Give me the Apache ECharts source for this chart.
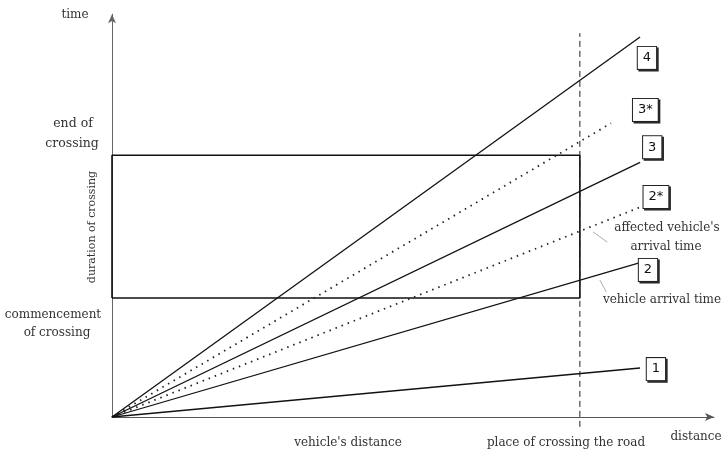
<!DOCTYPE html>
<html>
<head>
<meta charset="utf-8">
<script src="https://cdn.jsdelivr.net/npm/echarts@6/dist/echarts.min.js"></script>
<style>html,body{margin:0;padding:0;background:#fff}#c{width:722px;height:461px}</style>
</head>
<body>
<div id="c"></div>
<script>
// Vehicle arrival lines: end point at distance 100 (time units)
var lineNames = ['1', '2', '2*', '3', '3*', '4'];
var lineEndX = [100, 100, 100, 100, 94.5, 100];
var lineEndY = [12.9, 40.6, 55.2, 67.0, 77.3, 100];
var lineDotted = [false, false, true, false, true, false];
// Box label anchor positions (data units)
var boxX = [103, 101.5, 103, 102.3, 101, 101.3];
var boxY = [12.6, 38.7, 57.9, 71, 80.8, 94.5];
// Crossing window
var crossStart = 31.3, crossEnd = 68.9, crossPlace = 88.6;
// Leader lines
var leaders = [
  [[91.1, 48.7], [93.8, 46.0]],
  [[92.4, 36.0], [93.6, 32.9]]
];

var series = [];
for (var i = 0; i < lineNames.length; i++) {
  series.push({
    type: 'line', name: lineNames[i], showSymbol: false, silent: true, clip: false,
    data: [[0, 0], [lineEndX[i], lineEndY[i]]],
    lineStyle: lineDotted[i] ? {color: '#222', width: 1.8, type: [1.5, 5]} : {color: '#111', width: 1.3},
    z: 3
  });
}
// rectangle
series.push({
  type: 'line', showSymbol: false, silent: true, clip: false,
  data: [[0, crossStart], [crossPlace, crossStart], [crossPlace, crossEnd], [0, crossEnd], [0, crossStart]],
  lineStyle: {color: '#111', width: 1.6}, z: 2
});
// dashed place of crossing line
series.push({
  type: 'line', showSymbol: false, silent: true, clip: false,
  data: [[crossPlace, -2.6], [crossPlace, 101]],
  lineStyle: {color: '#222', width: 1, type: [6, 4]}, z: 2,
  markLine: {
    silent: true, symbol: ['arrow', 'arrow'], symbolSize: [6, 9],
    lineStyle: {color: '#222', width: 1, type: 'solid'}, label: {show: false},
    data: [[{coord: [-1, -10.5]}, {coord: [crossPlace, -10.5]}]]
  }
});
// leader lines
leaders.forEach(function (l) {
  series.push({
    type: 'line', showSymbol: false, silent: true, clip: false, data: l,
    lineStyle: {color: '#888', width: 0.7}, z: 2
  });
});
// box labels: shadow layer + white box layer
function boxSeries(isShadow) {
  return {
    type: 'scatter', symbolSize: 1, silent: true, clip: false,
    itemStyle: {color: 'rgba(0,0,0,0)', opacity: 1},
    data: lineNames.map(function (n, i) { return {value: [boxX[i], boxY[i]], name: n}; }),
    label: {
      show: true, position: 'inside', formatter: '{b}',
      offset: isShadow ? [1.6, 1.6] : [0, 0],
      fontFamily: 'DejaVu Sans', fontSize: 13,
      color: isShadow ? '#333' : '#111',
      backgroundColor: isShadow ? '#333' : '#ffffff',
      borderColor: '#222', borderWidth: 1,
      padding: [5, 5, 4, 5]
    },
    z: isShadow ? 5 : 6
  };
}
series.push(boxSeries(true));
series.push(boxSeries(false));

var tf = 'DejaVu Serif';
function txt(t, x, y, rot, fs) {
  return {type: 'text', x: x, y: y, rotation: rot || 0,
    style: {text: t, font: (fs || 12) + 'px "' + tf + '"', fill: '#333', textAlign: 'center', textVerticalAlign: 'middle'}};
}

var chart = echarts.init(document.getElementById('c'));
chart.setOption({
  animation: false,
  backgroundColor: '#fff',
  grid: {left: 112, right: 8, top: 14.2, bottom: 44},
  xAxis: {
    type: 'value', min: 0, max: 114, splitLine: {show: false}, axisTick: {show: false}, axisLabel: {show: false},
    axisLine: {show: true, symbol: ['none', 'arrow'], symbolSize: [6, 9], lineStyle: {color: '#555', width: 1}}
  },
  yAxis: {
    type: 'value', min: 0, max: 106, splitLine: {show: false}, axisTick: {show: false}, axisLabel: {show: false},
    axisLine: {show: true, symbol: ['none', 'arrow'], symbolSize: [6, 9], lineStyle: {color: '#666', width: 1}}
  },
  graphic: [
    txt('time', 75, 15),
    txt('end of', 73, 124, 0, 12.5),
    txt('crossing', 72, 144, 0, 12.5),
    txt('duration of crossing', 92, 227, Math.PI / 2, 11),
    txt('commencement', 53, 315),
    txt('of crossing', 57, 333),
    txt("vehicle's distance", 348, 443),
    txt('place of crossing the road', 566, 443),
    txt('distance', 696, 437),
    txt("affected vehicle's", 667, 228),
    txt('arrival time', 666, 247),
    txt('vehicle arrival time', 662, 300)
  ],
  series: series
});
</script>
</body>
</html>
